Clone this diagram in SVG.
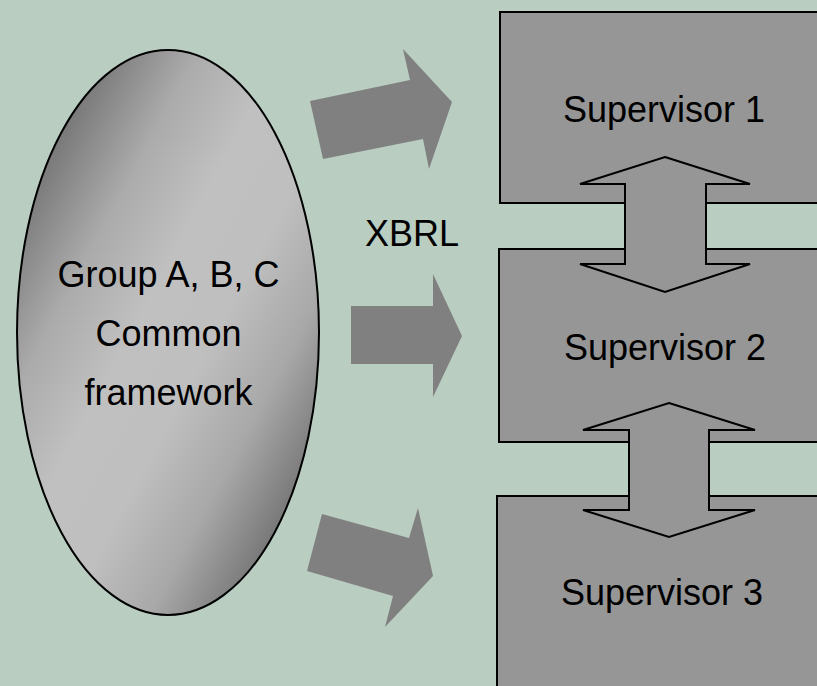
<svg xmlns="http://www.w3.org/2000/svg" width="817" height="686" viewBox="0 0 817 686">
  <defs>
    <linearGradient id="ovalShade" x1="0" y1="0" x2="1" y2="1">
      <stop offset="0.15" stop-color="#7a7a7a"/>
      <stop offset="0.3" stop-color="#ababab"/>
      <stop offset="0.44" stop-color="#c0c0c0"/>
      <stop offset="0.58" stop-color="#bfbfbf"/>
      <stop offset="0.72" stop-color="#a8a8a8"/>
      <stop offset="0.85" stop-color="#7a7a7a"/>
    </linearGradient>
    <style>
      .label { font-family: "Liberation Sans", Arial, sans-serif; font-size: 36px; fill: #000; text-anchor: middle; }
      .box { fill: #969696; stroke: #000; stroke-width: 2; }
      .flow { fill: #808080; stroke: none; }
      .link { fill: #969696; stroke: #000; stroke-width: 2; stroke-linejoin: miter; }
    </style>
  </defs>

  <!-- background -->
  <rect x="0" y="0" width="817" height="686" fill="#b9cdc1"/>

  <!-- source: common framework -->
  <g id="framework">
    <ellipse cx="168" cy="332.5" rx="151" ry="282.5" fill="url(#ovalShade)" stroke="#000" stroke-width="2"/>
    <text class="label" x="168.5" y="287">Group A, B, C</text>
    <text class="label" x="168.5" y="346">Common</text>
    <text class="label" x="168.5" y="405">framework</text>
  </g>

  <!-- supervisors -->
  <g id="supervisor1">
    <rect class="box" x="500" y="12" width="330" height="191"/>
    <text class="label" x="664" y="122">Supervisor 1</text>
  </g>
  <g id="supervisor2">
    <rect class="box" x="499" y="249" width="330" height="193"/>
    <text class="label" x="665" y="360">Supervisor 2</text>
  </g>
  <g id="supervisor3">
    <rect class="box" x="497" y="496" width="330" height="200"/>
    <text class="label" x="662" y="605">Supervisor 3</text>
  </g>

  <!-- XBRL caption -->
  <g id="xbrl">
    <text class="label" x="412" y="246">XBRL</text>
  </g>

  <!-- connectors -->
  <g id="connectors">
    <!-- block arrows from framework to supervisors -->
    <polygon class="flow" points="310,101 410,80 403,49 452,102 429,169 423,139 323,159"/>
    <polygon class="flow" points="351,306 433,306 433,274 462,336 433,397 433,364 351,364"/>
    <polygon class="flow" points="322,514 409,538 418,508 433,576 385,627 393,596 307,571"/>
    <!-- two-way exchange between supervisors -->
    <polygon class="link" points="665,157 750,184 706,184 706,264 750,264 665,292 580,264 625,264 625,184 580,184"/>
    <polygon class="link" points="669,403 755,430 709,430 709,510 755,510 669,537 583,510 629,510 629,430 583,430"/>
  </g>
</svg>
